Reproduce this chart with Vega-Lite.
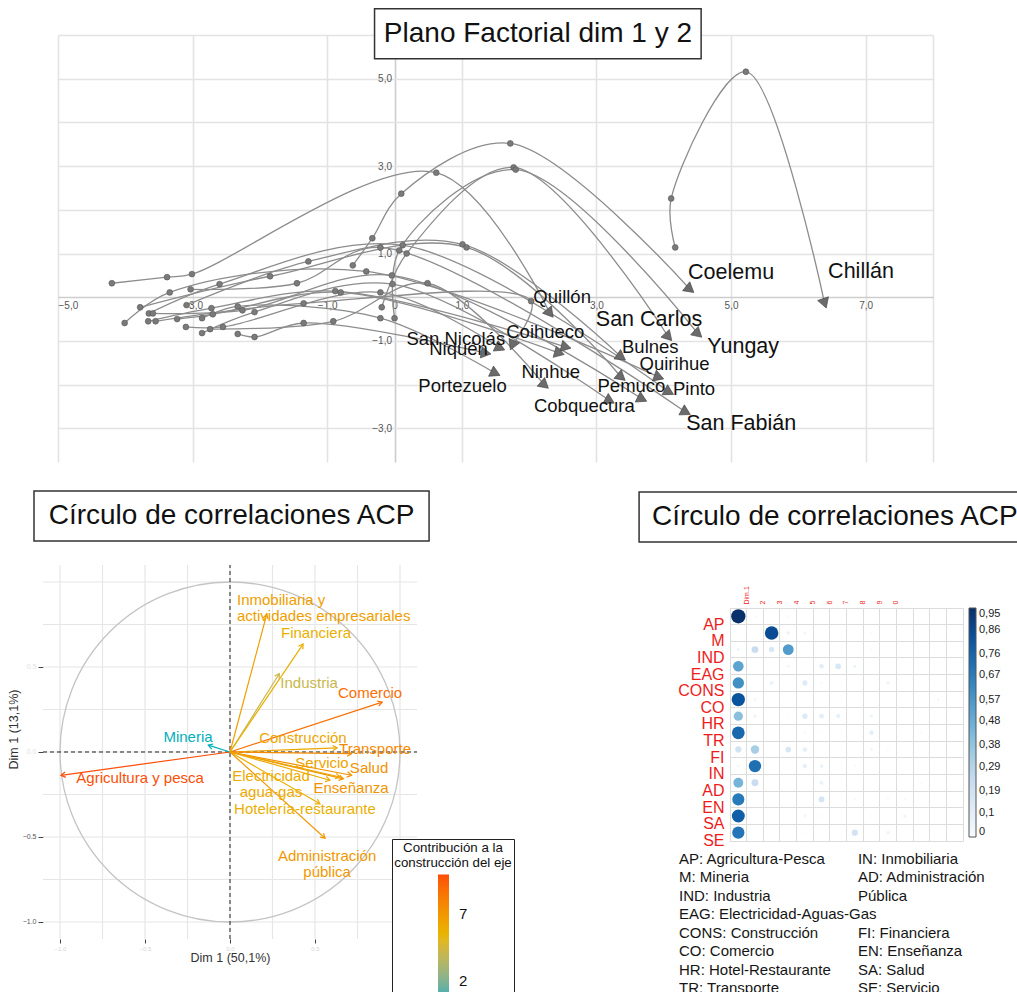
{
  "$schema": "https://vega.github.io/schema/vega-lite/v6.json",
  "padding": {"left": 5, "top": 8, "right": 0, "bottom": 0},
  "config": {"font": "Liberation Sans", "view": {"stroke": null}},
  "datasets": {
    "traj": [
      {"c": "Chillán", "t": 1, "x": 4.17, "y": 1.14}, {"c": "Chillán", "t": 2, "x": 4.11, "y": 2.26}, {"c": "Chillán", "t": 3, "x": 5.22, "y": 5.16}, {"c": "Chillán", "t": 4, "x": 6.39, "y": -0.14},
      {"c": "Coelemu", "t": 1, "x": -0.62, "y": 0.73}, {"c": "Coelemu", "t": 2, "x": -0.33, "y": 1.35}, {"c": "Coelemu", "t": 3, "x": 0.10, "y": 2.37}, {"c": "Coelemu", "t": 4, "x": 1.72, "y": 3.52}, {"c": "Coelemu", "t": 5, "x": 4.39, "y": 0.18},
      {"c": "Quillón", "t": 1, "x": -4.20, "y": 0.32}, {"c": "Quillón", "t": 2, "x": -3.38, "y": 0.46}, {"c": "Quillón", "t": 3, "x": -3.01, "y": 0.53}, {"c": "Quillón", "t": 4, "x": 0.62, "y": 2.85}, {"c": "Quillón", "t": 5, "x": 2.31, "y": -0.37},
      {"c": "San Carlos", "t": 1, "x": -0.19, "y": -0.23}, {"c": "San Carlos", "t": 2, "x": 0.18, "y": 1.00}, {"c": "San Carlos", "t": 3, "x": 1.77, "y": 2.97}, {"c": "San Carlos", "t": 4, "x": 4.07, "y": -0.91},
      {"c": "Yungay", "t": 1, "x": 0.00, "y": -0.48}, {"c": "Yungay", "t": 2, "x": 0.07, "y": 1.07}, {"c": "Yungay", "t": 3, "x": 1.80, "y": 2.92}, {"c": "Yungay", "t": 4, "x": 4.51, "y": -0.84},
      {"c": "Bulnes", "t": 1, "x": -3.09, "y": -0.18}, {"c": "Bulnes", "t": 2, "x": -1.28, "y": 0.82}, {"c": "Bulnes", "t": 3, "x": 1.01, "y": 1.21}, {"c": "Bulnes", "t": 4, "x": 3.37, "y": -1.37},
      {"c": "Pemuco", "t": 1, "x": -3.78, "y": -0.23}, {"c": "Pemuco", "t": 2, "x": -1.85, "y": 0.48}, {"c": "Pemuco", "t": 3, "x": 1.07, "y": 1.14}, {"c": "Pemuco", "t": 4, "x": 3.37, "y": -1.83},
      {"c": "Quirihue", "t": 1, "x": -4.01, "y": -0.59}, {"c": "Quirihue", "t": 2, "x": -3.34, "y": 0.11}, {"c": "Quirihue", "t": 3, "x": -0.42, "y": 0.59}, {"c": "Quirihue", "t": 4, "x": 3.93, "y": -1.83},
      {"c": "Pinto", "t": 1, "x": -3.65, "y": -0.37}, {"c": "Pinto", "t": 2, "x": -2.60, "y": 0.30}, {"c": "Pinto", "t": 3, "x": 0.12, "y": 1.19}, {"c": "Pinto", "t": 4, "x": 4.08, "y": -2.17},
      {"c": "San Fabián", "t": 1, "x": -3.03, "y": 0.18}, {"c": "San Fabián", "t": 2, "x": -1.45, "y": 0.32}, {"c": "San Fabián", "t": 3, "x": -0.21, "y": 1.14}, {"c": "San Fabián", "t": 4, "x": 4.33, "y": -2.63},
      {"c": "Cobquecura", "t": 1, "x": -2.86, "y": -0.82}, {"c": "Cobquecura", "t": 2, "x": -2.08, "y": -0.34}, {"c": "Cobquecura", "t": 3, "x": -0.03, "y": 0.30}, {"c": "Cobquecura", "t": 4, "x": 3.20, "y": -2.37},
      {"c": "Ránquil", "t": 1, "x": -3.59, "y": -0.37}, {"c": "Ránquil", "t": 2, "x": -2.26, "y": -0.30}, {"c": "Ránquil", "t": 3, "x": -0.04, "y": 0.50}, {"c": "Ránquil", "t": 4, "x": 3.68, "y": -2.33},
      {"c": "Ninhue", "t": 1, "x": -2.74, "y": -0.73}, {"c": "Ninhue", "t": 2, "x": -0.91, "y": -0.55}, {"c": "Ninhue", "t": 3, "x": 0.49, "y": 0.32}, {"c": "Ninhue", "t": 4, "x": 2.23, "y": -2.01},
      {"c": "Coihueco", "t": 1, "x": -3.66, "y": -0.55}, {"c": "Coihueco", "t": 2, "x": -2.72, "y": -0.25}, {"c": "Coihueco", "t": 3, "x": -0.88, "y": 0.14}, {"c": "Coihueco", "t": 4, "x": 2.55, "y": -1.14},
      {"c": "Treguaco", "t": 1, "x": -3.23, "y": -0.50}, {"c": "Treguaco", "t": 2, "x": -2.70, "y": -0.39}, {"c": "Treguaco", "t": 3, "x": -0.80, "y": 0.11}, {"c": "Treguaco", "t": 4, "x": 2.45, "y": -1.28},
      {"c": "San Nicolás", "t": 1, "x": -3.55, "y": -0.55}, {"c": "San Nicolás", "t": 2, "x": -1.35, "y": -0.14}, {"c": "San Nicolás", "t": 3, "x": 2.03, "y": -0.09}, {"c": "San Nicolás", "t": 4, "x": 1.75, "y": -1.10},
      {"c": "El Carmen", "t": 1, "x": -3.10, "y": -0.68}, {"c": "El Carmen", "t": 2, "x": -2.55, "y": -0.68}, {"c": "El Carmen", "t": 3, "x": -0.21, "y": 0.11}, {"c": "El Carmen", "t": 4, "x": 1.57, "y": -1.16},
      {"c": "Niquén", "t": 1, "x": -2.33, "y": -0.84}, {"c": "Niquén", "t": 2, "x": -2.08, "y": -0.91}, {"c": "Niquén", "t": 3, "x": -1.35, "y": -0.59}, {"c": "Niquén", "t": 4, "x": 1.36, "y": -1.28},
      {"c": "Portezuelo", "t": 1, "x": -2.86, "y": -0.48}, {"c": "Portezuelo", "t": 2, "x": -2.33, "y": -0.21}, {"c": "Portezuelo", "t": 3, "x": -0.21, "y": -0.48}, {"c": "Portezuelo", "t": 4, "x": 1.50, "y": -1.74}
    ],
    "etiq": [
      {"c": "Chillán", "lx": 6.93, "ly": 0.57, "tam": "grande"},
      {"c": "Coelemu", "lx": 5.00, "ly": 0.55, "tam": "grande"},
      {"c": "San Carlos", "lx": 3.78, "ly": -0.53, "tam": "grande"},
      {"c": "Yungay", "lx": 5.18, "ly": -1.14, "tam": "grande"},
      {"c": "San Fabián", "lx": 5.15, "ly": -2.90, "tam": "grande"},
      {"c": "Quillón", "lx": 2.49, "ly": 0.0, "tam": "mediana"},
      {"c": "Bulnes", "lx": 3.80, "ly": -1.14, "tam": "mediana"},
      {"c": "Quirihue", "lx": 4.16, "ly": -1.53, "tam": "mediana"},
      {"c": "Pinto", "lx": 4.45, "ly": -2.10, "tam": "mediana"},
      {"c": "Pemuco", "lx": 3.52, "ly": -2.03, "tam": "mediana"},
      {"c": "Cobquecura", "lx": 2.82, "ly": -2.49, "tam": "mediana"},
      {"c": "Ninhue", "lx": 2.32, "ly": -1.71, "tam": "mediana"},
      {"c": "Coihueco", "lx": 2.24, "ly": -0.80, "tam": "mediana"},
      {"c": "San Nicolás", "lx": 0.91, "ly": -0.96, "tam": "mediana"},
      {"c": "Niquén", "lx": 0.95, "ly": -1.19, "tam": "mediana"},
      {"c": "Portezuelo", "lx": 1.01, "ly": -2.03, "tam": "mediana"}
    ],
    "vars": [
      {"k": "AP", "v": "Agricultura y pesca", "x": -0.994, "y": -0.137, "lx": -0.529, "ly": -0.153, "contrib": 9.9},
      {"k": "M", "v": "Mineria", "x": -0.128, "y": 0.04, "lx": -0.247, "ly": 0.088, "contrib": 0.6},
      {"k": "IND", "v": "Industria", "x": 0.29, "y": 0.46, "lx": 0.465, "ly": 0.406, "contrib": 4.1},
      {"k": "EAG", "v": "Electricidad\nagua-gas", "x": 0.588, "y": -0.166, "lx": 0.241, "ly": -0.144, "contrib": 6.0},
      {"k": "CONS", "v": "Construcción", "x": 0.63, "y": 0.024, "lx": 0.429, "ly": 0.082, "contrib": 6.2},
      {"k": "CO", "v": "Comercio", "x": 0.895, "y": 0.293, "lx": 0.824, "ly": 0.347, "contrib": 8.7},
      {"k": "HR", "v": "Hotelería-restaurante", "x": 0.529, "y": -0.305, "lx": 0.441, "ly": -0.335, "contrib": 5.7},
      {"k": "TR", "v": "Transporte", "x": 0.715, "y": -0.01, "lx": 0.853, "ly": 0.018, "contrib": 7.6},
      {"k": "FI", "v": "Financiera", "x": 0.43, "y": 0.635, "lx": 0.506, "ly": 0.70, "contrib": 5.7},
      {"k": "IN", "v": "Inmobiliaria y\nactividades empresariales", "x": 0.216, "y": 0.81, "lx": 0.041, "ly": 0.894, "contrib": 6.6},
      {"k": "AD", "v": "Administración\npública", "x": 0.559, "y": -0.507, "lx": 0.571, "ly": -0.612, "contrib": 6.9},
      {"k": "EN", "v": "Enseñanza", "x": 0.667, "y": -0.158, "lx": 0.712, "ly": -0.212, "contrib": 7.1},
      {"k": "SA", "v": "Salud", "x": 0.715, "y": -0.137, "lx": 0.818, "ly": -0.094, "contrib": 7.2},
      {"k": "SE", "v": "Servicio", "x": 0.647, "y": -0.147, "lx": 0.541, "ly": -0.065, "contrib": 6.3}
    ],
    "gB": [{"g": -1}, {"g": -0.75}, {"g": -0.5}, {"g": -0.25}, {"g": 0}, {"g": 0.25}, {"g": 0.5}, {"g": 0.75}, {"g": 1}],
    "cp": [
      {"r": "AP", "d": "Dim.1", "v": 0.95}, {"r": "AP", "d": "Dim.2", "v": 0.02}, {"r": "AP", "d": "Dim.4", "v": 0.02},
      {"r": "M", "d": "Dim.3", "v": 0.85}, {"r": "M", "d": "Dim.4", "v": 0.06}, {"r": "M", "d": "Dim.5", "v": 0.04}, {"r": "M", "d": "Dim.7", "v": 0.01}, {"r": "M", "d": "Dim.9", "v": 0.02}, {"r": "M", "d": "Dim.10", "v": 0.01},
      {"r": "IND", "d": "Dim.1", "v": 0.05}, {"r": "IND", "d": "Dim.2", "v": 0.22}, {"r": "IND", "d": "Dim.3", "v": 0.14}, {"r": "IND", "d": "Dim.4", "v": 0.55}, {"r": "IND", "d": "Dim.6", "v": 0.01}, {"r": "IND", "d": "Dim.9", "v": 0.02},
      {"r": "EAG", "d": "Dim.1", "v": 0.52}, {"r": "EAG", "d": "Dim.2", "v": 0.01}, {"r": "EAG", "d": "Dim.4", "v": 0.04}, {"r": "EAG", "d": "Dim.6", "v": 0.1}, {"r": "EAG", "d": "Dim.7", "v": 0.15}, {"r": "EAG", "d": "Dim.8", "v": 0.05},
      {"r": "CONS", "d": "Dim.1", "v": 0.6}, {"r": "CONS", "d": "Dim.3", "v": 0.07}, {"r": "CONS", "d": "Dim.5", "v": 0.12}, {"r": "CONS", "d": "Dim.6", "v": 0.02}, {"r": "CONS", "d": "Dim.8", "v": 0.01}, {"r": "CONS", "d": "Dim.10", "v": 0.05},
      {"r": "CO", "d": "Dim.1", "v": 0.82}, {"r": "CO", "d": "Dim.2", "v": 0.04}, {"r": "CO", "d": "Dim.5", "v": 0.01}, {"r": "CO", "d": "Dim.9", "v": 0.01}, {"r": "CO", "d": "Dim.11", "v": 0.01}, {"r": "CO", "d": "Dim.13", "v": 0.03},
      {"r": "HR", "d": "Dim.1", "v": 0.4}, {"r": "HR", "d": "Dim.2", "v": 0.05}, {"r": "HR", "d": "Dim.4", "v": 0.01}, {"r": "HR", "d": "Dim.5", "v": 0.13}, {"r": "HR", "d": "Dim.6", "v": 0.1}, {"r": "HR", "d": "Dim.7", "v": 0.08}, {"r": "HR", "d": "Dim.9", "v": 0.05},
      {"r": "TR", "d": "Dim.1", "v": 0.75}, {"r": "TR", "d": "Dim.5", "v": 0.02}, {"r": "TR", "d": "Dim.6", "v": 0.02}, {"r": "TR", "d": "Dim.7", "v": 0.01}, {"r": "TR", "d": "Dim.9", "v": 0.09}, {"r": "TR", "d": "Dim.12", "v": 0.02},
      {"r": "FI", "d": "Dim.1", "v": 0.18}, {"r": "FI", "d": "Dim.2", "v": 0.33}, {"r": "FI", "d": "Dim.4", "v": 0.15}, {"r": "FI", "d": "Dim.5", "v": 0.1}, {"r": "FI", "d": "Dim.9", "v": 0.04}, {"r": "FI", "d": "Dim.10", "v": 0.02}, {"r": "FI", "d": "Dim.14", "v": 0.01},
      {"r": "IN", "d": "Dim.1", "v": 0.03}, {"r": "IN", "d": "Dim.2", "v": 0.72}, {"r": "IN", "d": "Dim.5", "v": 0.09}, {"r": "IN", "d": "Dim.6", "v": 0.06}, {"r": "IN", "d": "Dim.8", "v": 0.02}, {"r": "IN", "d": "Dim.10", "v": 0.01},
      {"r": "AD", "d": "Dim.1", "v": 0.45}, {"r": "AD", "d": "Dim.2", "v": 0.22}, {"r": "AD", "d": "Dim.4", "v": 0.01}, {"r": "AD", "d": "Dim.6", "v": 0.07}, {"r": "AD", "d": "Dim.12", "v": 0.02},
      {"r": "EN", "d": "Dim.1", "v": 0.68}, {"r": "EN", "d": "Dim.6", "v": 0.16}, {"r": "EN", "d": "Dim.8", "v": 0.02}, {"r": "EN", "d": "Dim.10", "v": 0.02}, {"r": "EN", "d": "Dim.11", "v": 0.02},
      {"r": "SA", "d": "Dim.1", "v": 0.78}, {"r": "SA", "d": "Dim.5", "v": 0.04}, {"r": "SA", "d": "Dim.6", "v": 0.02}, {"r": "SA", "d": "Dim.9", "v": 0.02}, {"r": "SA", "d": "Dim.11", "v": 0.05},
      {"r": "SE", "d": "Dim.1", "v": 0.7}, {"r": "SE", "d": "Dim.5", "v": 0.01}, {"r": "SE", "d": "Dim.8", "v": 0.18}, {"r": "SE", "d": "Dim.10", "v": 0.05}
    ],
    "abrev": [
      {"col": 1, "linea": 1, "txt": "AP: Agricultura-Pesca"},
      {"col": 1, "linea": 2, "txt": "M: Mineria"},
      {"col": 1, "linea": 3, "txt": "IND: Industria"},
      {"col": 1, "linea": 4, "txt": "EAG: Electricidad-Aguas-Gas"},
      {"col": 1, "linea": 5, "txt": "CONS: Construcción"},
      {"col": 1, "linea": 6, "txt": "CO: Comercio"},
      {"col": 1, "linea": 7, "txt": "HR: Hotel-Restaurante"},
      {"col": 1, "linea": 8, "txt": "TR: Transporte"},
      {"col": 2, "linea": 1, "txt": "IN: Inmobiliaria"},
      {"col": 2, "linea": 2, "txt": "AD: Administración"},
      {"col": 2, "linea": 3, "txt": "Pública"},
      {"col": 2, "linea": 5, "txt": "FI: Financiera"},
      {"col": 2, "linea": 6, "txt": "EN: Enseñanza"},
      {"col": 2, "linea": 7, "txt": "SA: Salud"},
      {"col": 2, "linea": 8, "txt": "SE: Servicio"}
    ]
  },
  "columns": 1,
  "spacing": 28,
  "resolve": {"scale": {"x": "independent", "y": "independent", "color": "independent", "size": "independent", "fill": "independent", "stroke": "independent"}, "legend": {"color": "independent", "size": "independent", "fill": "independent", "stroke": "independent"}},
  "concat": [
    {
      "width": 875,
      "height": 427,
      "layer": [
        {
          "data": {"name": "traj"},
          "mark": {"type": "line", "interpolate": "catmull-rom", "stroke": "#8c8c8c", "strokeWidth": 1.3},
          "encoding": {
            "x": {"field": "x", "type": "quantitative", "scale": {"domain": [-5, 8], "nice": false, "zero": false},
              "axis": {"values": [-5, -3, -1, 0, 1, 3, 5, 7, 8], "offset": -164.8, "domain": false, "ticks": false, "grid": true,
                "gridColor": {"condition": {"test": "datum.value === 0", "value": "#cdcdcd"}, "value": "#e3e3e3"}, "gridWidth": 1.6,
                "labelExpr": "datum.value === 8 ? '' : datum.value === 0 ? '0' : replace(format(datum.value, '.1f'), '.', ',')",
                "labelFontSize": 10, "labelColor": "#555", "labelPadding": 3, "labelFlush": true, "labelOverlap": false, "title": null}},
            "y": {"field": "y", "type": "quantitative", "scale": {"domain": [-3.77, 6], "nice": false, "zero": false},
              "axis": {"values": [-3, -2, -1, 0, 1, 2, 3, 4, 5, 6], "offset": -336.5, "domain": false, "ticks": false, "grid": true,
                "gridColor": {"condition": {"test": "datum.value === 0", "value": "#cdcdcd"}, "value": "#e3e3e3"}, "gridWidth": 1.6,
                "labelExpr": "datum.value % 2 !== 0 ? replace(format(datum.value, '.1f'), '.', ',') : ''",
                "labelFontSize": 10, "labelColor": "#555", "labelPadding": 3, "labelOverlap": false, "title": null}},
            "detail": {"field": "c"},
            "order": {"field": "t"}
          }
        },
        {
          "data": {"name": "traj"},
          "transform": [
            {"joinaggregate": [{"op": "max", "field": "t", "as": "tmax"}], "groupby": ["c"]},
            {"filter": "datum.t < datum.tmax"}
          ],
          "mark": {"type": "point", "filled": true, "fill": "#7a7a7a", "stroke": "#555", "strokeWidth": 0.6, "size": 34, "opacity": 1},
          "encoding": {"x": {"field": "x", "type": "quantitative"}, "y": {"field": "y", "type": "quantitative"}}
        },
        {
          "data": {"name": "traj"},
          "transform": [
            {"window": [{"op": "lag", "field": "x", "as": "px"}, {"op": "lag", "field": "y", "as": "py"}], "groupby": ["c"], "sort": [{"field": "t"}]},
            {"joinaggregate": [{"op": "max", "field": "t", "as": "tmax"}], "groupby": ["c"]},
            {"filter": "datum.t === datum.tmax"},
            {"calculate": "atan2(-(datum.x - datum.px) * 67.3, -(datum.y - datum.py) * 43.7) * 180 / PI", "as": "ang"}
          ],
          "mark": {"type": "point", "shape": "triangle-down", "filled": true, "fill": "#6b6b6b", "stroke": "#444", "strokeWidth": 0.6, "size": 130, "opacity": 1},
          "encoding": {"x": {"field": "x", "type": "quantitative"}, "y": {"field": "y", "type": "quantitative"}, "angle": {"field": "ang", "type": "quantitative", "scale": null}}
        },
        {
          "data": {"name": "etiq"},
          "mark": {"type": "text", "color": "#111", "baseline": "middle"},
          "encoding": {
            "x": {"field": "lx", "type": "quantitative"},
            "y": {"field": "ly", "type": "quantitative"},
            "text": {"field": "c"},
            "size": {"field": "tam", "type": "ordinal", "scale": {"domain": ["grande", "mediana"], "range": [21.5, 18.5]}, "legend": null}
          }
        },
        {
          "data": {"values": [{}]},
          "mark": {"type": "rect", "fill": "white", "stroke": "#333", "strokeWidth": 1.5},
          "encoding": {"x": {"datum": -0.297, "type": "quantitative"}, "x2": {"datum": 4.555}, "y": {"datum": 6.598, "type": "quantitative"}, "y2": {"datum": 5.457}}
        },
        {
          "data": {"values": [{}]},
          "mark": {"type": "text", "text": "Plano Factorial dim 1 y 2", "fontSize": 28, "color": "#111", "baseline": "middle"},
          "encoding": {"x": {"datum": 2.13, "type": "quantitative"}, "y": {"datum": 6.03, "type": "quantitative"}}
        },
        {
          "data": {"values": [{}]},
          "mark": {"type": "text", "text": " ", "align": "left"},
          "encoding": {"x": {"datum": -5.786, "type": "quantitative"}, "y": {"datum": 0, "type": "quantitative"}}
        }
      ]
    },
    {
      "spacing": 122,
      "resolve": {"scale": {"x": "independent", "y": "independent", "color": "independent", "size": "independent", "fill": "independent", "stroke": "independent"}, "legend": {"color": "independent", "size": "independent", "fill": "independent", "stroke": "independent"}},
      "concat": [
        {
          "width": 359,
          "height": 331,
          "layer": [
            {
              "data": {"name": "gB"},
              "mark": {"type": "rule", "color": "#e6e6e6", "strokeWidth": 1.2},
              "encoding": {
                "x": {"field": "g", "type": "quantitative", "scale": {"domain": [-1.0118, 1.1], "nice": false, "zero": false},
                  "axis": {"values": [-1, -0.5, 0, 0.5, 1], "grid": false, "domain": false, "tickColor": "#444", "tickSize": 4,
                    "labelExpr": "format(datum.value, '.1f')", "labelFontSize": 6, "labelColor": "#d5d5d5", "labelPadding": 2,
                    "title": "Dim 1 (50,1%)", "titleFontSize": 12.5, "titleFontWeight": "normal", "titleColor": "#333", "titlePadding": 0, "titleX": 172}},
                "y": {"datum": -1.1, "type": "quantitative", "scale": {"domain": [-1.1, 0.847], "nice": false, "zero": false},
                  "axis": {"values": [-1, -0.5, 0, 0.5, 1], "offset": 15, "grid": false, "domain": false, "tickColor": "#444", "tickSize": 5,
                    "labelExpr": "format(datum.value, '.1f')", "labelFontSize": 7,
                    "labelColor": {"condition": {"test": "datum.value >= 0", "value": "#e2e2e2"}, "value": "#555"}, "labelPadding": 2,
                    "title": "Dim 1 (13,1%)", "titleFontSize": 12.5, "titleFontWeight": "normal", "titleColor": "#333", "titlePadding": 2, "titleY": 121}},
                "y2": {"datum": 1.1}
              }
            },
            {
              "data": {"name": "gB"},
              "mark": {"type": "rule", "color": "#e6e6e6", "strokeWidth": 1.2},
              "encoding": {
                "y": {"field": "g", "type": "quantitative", "axis": {"title": "Dim 1 (13,1%)"}},
                "x": {"datum": -1.1, "type": "quantitative"},
                "x2": {"datum": 1.1}
              }
            },
            {
              "data": {"values": [{}]},
              "mark": {"type": "point", "filled": false, "stroke": "#c4c4c4", "strokeWidth": 1.3, "size": 115600, "opacity": 1},
              "encoding": {"x": {"datum": 0, "type": "quantitative"}, "y": {"datum": 0, "type": "quantitative"}}
            },
            {
              "data": {"values": [{}]},
              "mark": {"type": "rule", "color": "#222", "strokeDash": [4, 3], "strokeWidth": 1},
              "encoding": {"x": {"datum": 0, "type": "quantitative"}, "y": {"datum": -1.1, "type": "quantitative"}, "y2": {"datum": 1.1}}
            },
            {
              "data": {"values": [{}]},
              "mark": {"type": "rule", "color": "#222", "strokeDash": [4, 3], "strokeWidth": 1},
              "encoding": {"y": {"datum": 0, "type": "quantitative"}, "x": {"datum": -1.1, "type": "quantitative"}, "x2": {"datum": 1.1}}
            },
            {
              "data": {"name": "vars"},
              "mark": {"type": "point", "filled": true, "size": 0, "opacity": 0},
              "encoding": {
                "x": {"field": "x", "type": "quantitative"},
                "y": {"field": "y", "type": "quantitative"},
                "color": {"field": "contrib", "type": "quantitative",
                  "scale": {"domain": [0.6, 9.9], "range": ["#00AFBB", "#E7B800", "#FC4E07"], "interpolate": "lab"},
                  "legend": {"type": "gradient", "orient": "none", "legendX": 334, "legendY": 231, "title": ["Contribución a la", "construcción del eje"],
                    "titleFontSize": 13.3, "titleFontWeight": "normal", "titleColor": "#111", "titleAlign": "center", "titleAnchor": "middle",
                    "values": [2, 7], "labelFontSize": 15, "labelColor": "#111", "gradientLength": 125, "gradientThickness": 11,
                    "strokeColor": "#222", "fillColor": "white", "padding": 2, "direction": "vertical", "labelOffset": 10}}
              }
            },
            {
              "data": {"name": "vars"},
              "mark": {"type": "rule", "strokeWidth": 1.2},
              "encoding": {
                "x": {"field": "x", "type": "quantitative"},
                "y": {"field": "y", "type": "quantitative"},
                "x2": {"datum": 0},
                "y2": {"datum": 0},
                "stroke": {"field": "contrib", "type": "quantitative",
                  "scale": {"domain": [0.599, 9.9], "range": ["#00AFBB", "#E7B800", "#FC4E07"], "interpolate": "lab"}, "legend": null}
              }
            },
            {
              "data": {"name": "vars"},
              "transform": [{"calculate": "atan2(datum.x, datum.y) * 180 / PI", "as": "ang"}],
              "mark": {"type": "point", "shape": "M-0.6,1L0,0L0.6,1", "filled": false, "strokeWidth": 1.2, "size": 80, "opacity": 1},
              "encoding": {
                "x": {"field": "x", "type": "quantitative"},
                "y": {"field": "y", "type": "quantitative"},
                "angle": {"field": "ang", "type": "quantitative", "scale": null},
                "stroke": {"field": "contrib", "type": "quantitative", "legend": null}
              }
            },
            {
              "data": {"name": "vars"},
              "transform": [{"filter": "datum.k !== 'IN'"}],
              "mark": {"type": "text", "fontSize": 15, "baseline": "middle", "align": "center", "lineBreak": "\n", "lineHeight": 16},
              "encoding": {
                "x": {"field": "lx", "type": "quantitative"},
                "y": {"field": "ly", "type": "quantitative"},
                "text": {"field": "v"},
                "fill": {"field": "contrib", "type": "quantitative",
                  "scale": {"domain": [0.598, 9.9], "range": ["#00AFBB", "#E7B800", "#FC4E07"], "interpolate": "lab"}, "legend": null}
              }
            },
            {
              "data": {"name": "vars"},
              "transform": [{"filter": "datum.k === 'IN'"}],
              "mark": {"type": "text", "fontSize": 15, "baseline": "middle", "align": "left", "lineBreak": "\n", "lineHeight": 16},
              "encoding": {
                "x": {"field": "lx", "type": "quantitative"},
                "y": {"field": "ly", "type": "quantitative"},
                "text": {"field": "v"},
                "fill": {"field": "contrib", "type": "quantitative", "legend": null}
              }
            },
            {
              "data": {"values": [{}]},
              "mark": {"type": "rect", "fill": "white", "stroke": "#333", "strokeWidth": 1.5},
              "encoding": {"x": {"datum": -1.153, "type": "quantitative"}, "x2": {"datum": 1.171}, "y": {"datum": 1.535, "type": "quantitative"}, "y2": {"datum": 1.241}}
            },
            {
              "data": {"values": [{}]},
              "mark": {"type": "text", "text": "Círculo de correlaciones ACP", "fontSize": 28, "color": "#111", "baseline": "middle", "align": "center"},
              "encoding": {"x": {"datum": 0.009, "type": "quantitative"}, "y": {"datum": 1.388, "type": "quantitative"}}
            }
          ]
        },
        {
          "width": 233,
          "height": 233,
          "view": {"stroke": "#dcdcdc"},
          "resolve": {"scale": {"x": "independent", "y": "independent"}},
          "layer": [
            {
              "data": {"name": "cp"},
              "mark": {"type": "point", "filled": true, "opacity": 1},
              "encoding": {
                "x": {"field": "d", "type": "nominal",
                  "scale": {"type": "band", "domain": ["Dim.1", "Dim.2", "Dim.3", "Dim.4", "Dim.5", "Dim.6", "Dim.7", "Dim.8", "Dim.9", "Dim.10", "Dim.11", "Dim.12", "Dim.13", "Dim.14"], "paddingInner": 0, "paddingOuter": 0},
                  "axis": {"orient": "top", "grid": true, "gridColor": "#dcdcdc", "bandPosition": 0, "ticks": false, "domain": false, "labelAngle": -90,
                    "labelColor": "#ee1c1c", "labelFontSize": 7, "labelOffset": 8.3, "labelPadding": 4,
                    "labelExpr": "datum.value === 'Dim.1' ? 'Dim.1' : (indexof(['Dim.11', 'Dim.12', 'Dim.13', 'Dim.14'], datum.value) >= 0 ? '' : slice(datum.value, -1))",
                    "title": null}},
                "y": {"field": "r", "type": "nominal",
                  "scale": {"type": "band", "domain": ["AP", "M", "IND", "EAG", "CONS", "CO", "HR", "TR", "FI", "IN", "AD", "EN", "SA", "SE"], "paddingInner": 0, "paddingOuter": 0},
                  "axis": {"grid": true, "gridColor": "#dcdcdc", "bandPosition": 0, "ticks": false, "domain": false,
                    "labelColor": "#ee1c1c", "labelFontSize": 16, "labelOffset": 8.3, "labelPadding": 6, "title": null}},
                "size": {"field": "v", "type": "quantitative", "scale": {"domain": [0, 1], "range": [0, 215]}, "legend": null},
                "color": {"field": "v", "type": "quantitative",
                  "scale": {"domain": [0, 0.95], "range": ["#F7FBFF", "#DEEBF7", "#C6DBEF", "#9ECAE1", "#6BAED6", "#4292C6", "#2171B5", "#08519C", "#08306B"]},
                  "legend": {"type": "gradient", "orient": "right", "offset": 6, "title": null, "gradientLength": 229, "gradientThickness": 7,
                    "values": [0, 0.1, 0.19, 0.29, 0.38, 0.48, 0.57, 0.67, 0.76, 0.86, 0.95],
                    "labelExpr": "replace(toString(datum.value), '.', ',')", "labelFontSize": 11, "labelOverlap": false, "labelColor": "#222",
                    "gradientStrokeColor": "#555", "gradientStrokeWidth": 1, "labelOffset": 3}}
              }
            },
            {
              "layer": [
                {
                  "data": {"values": [{}]},
                  "mark": {"type": "rect", "fill": "white", "stroke": "#333", "strokeWidth": 1.5},
                  "encoding": {
                    "x": {"datum": 0.777, "type": "quantitative", "scale": {"domain": [1.285, 2.587], "nice": false, "zero": false}, "axis": null},
                    "x2": {"datum": 2.98},
                    "y": {"datum": -18.91, "type": "quantitative", "scale": {"domain": [-12.62, 0.023], "nice": false, "zero": false, "reverse": true}, "axis": null},
                    "y2": {"datum": -16.2}
                  }
                },
                {
                  "data": {"values": [{}]},
                  "mark": {"type": "text", "text": "Círculo de correlaciones ACP", "fontSize": 28, "color": "#111", "baseline": "middle", "align": "left"},
                  "encoding": {"x": {"datum": 0.849, "type": "quantitative"}, "y": {"datum": -17.56, "type": "quantitative"}}
                },
                {
                  "data": {"name": "abrev"},
                  "mark": {"type": "text", "fontSize": 15, "color": "#151515", "baseline": "middle", "align": "left"},
                  "encoding": {
                    "x": {"field": "col", "type": "quantitative"},
                    "y": {"field": "linea", "type": "quantitative"},
                    "text": {"field": "txt"}
                  }
                }
              ]
            }
          ]
        }
      ]
    }
  ]
}
